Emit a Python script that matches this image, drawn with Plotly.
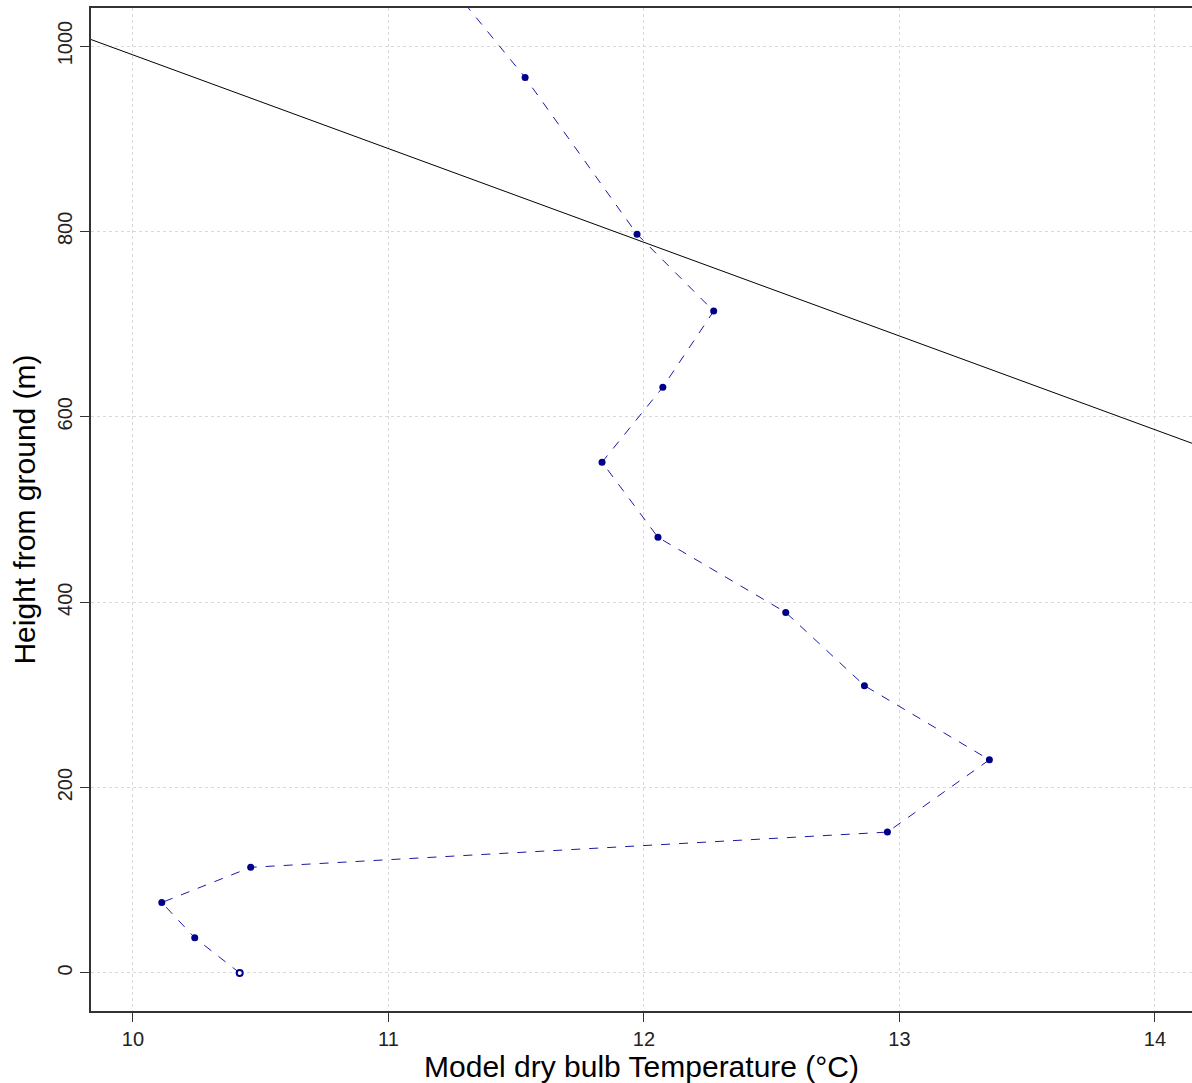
import plotly.graph_objects as go

temps = [10.418, 10.242, 10.113, 10.461, 12.953, 13.352, 12.863, 12.555, 12.055, 11.836, 12.074, 12.273, 11.973, 11.535, 10.99]
heights = [0, 38, 76, 114, 152, 230, 310, 389, 470, 551, 632, 714, 797, 966, 1150]

adiabat_t = [9.0, 15.0]
adiabat_h = [1091.5, 485.0]

xticks = [10, 11, 12, 13, 14]
yticks = [0, 200, 400, 600, 800, 1000]

fig = go.Figure()
fig.add_trace(go.Scatter(x=adiabat_t, y=adiabat_h, mode="lines",
                         line=dict(color="black", width=1), showlegend=False, hoverinfo="skip"))
fig.add_trace(go.Scatter(x=temps, y=heights, mode="lines",
                         line=dict(color="#1a1aa6", width=1, dash="dash"), showlegend=False))
fig.add_trace(go.Scatter(x=temps[1:], y=heights[1:], mode="markers",
                         marker=dict(color="#00008B", size=7), showlegend=False))
fig.add_trace(go.Scatter(x=temps[:1], y=heights[:1], mode="markers",
                         marker=dict(color="white", size=6, line=dict(color="#00008B", width=2)), showlegend=False))

font = "Liberation Sans, Arial, sans-serif"
fig.update_layout(
    width=1192, height=1083,
    margin=dict(l=91, r=0, t=8, b=72),
    paper_bgcolor="white", plot_bgcolor="white",
    font=dict(family=font, color="black"),
    xaxis=dict(range=[9.836, 14.145], tickvals=xticks, ticktext=[str(v) for v in xticks],
               showgrid=True, gridcolor="#d9d9d9", griddash="dot", gridwidth=1,
               zeroline=False, showline=True, linecolor="#333333", linewidth=1.5, mirror=True,
               ticks="outside", ticklen=9, tickcolor="#333333", tickfont=dict(size=20, color="#222222"),
               title=dict(text="Model dry bulb Temperature (°C)", font=dict(size=30), standoff=0)),
    yaxis=dict(range=[-41, 1041], tickvals=yticks, ticktext=[str(v) for v in yticks],
               showgrid=True, gridcolor="#d9d9d9", griddash="dot", gridwidth=1,
               zeroline=False, showline=True, linecolor="#333333", linewidth=1.5,
               ticks="outside", ticklen=9, tickcolor="#333333", tickfont=dict(size=20, color="#222222"), tickangle=-90,
               title=dict(text="Height from ground (m)", font=dict(size=30), standoff=10)),
)
fig.write_html("out.html", config={"displayModeBar": False},
               post_script="document.body.style.margin='0px';document.body.style.overflow='hidden';")
